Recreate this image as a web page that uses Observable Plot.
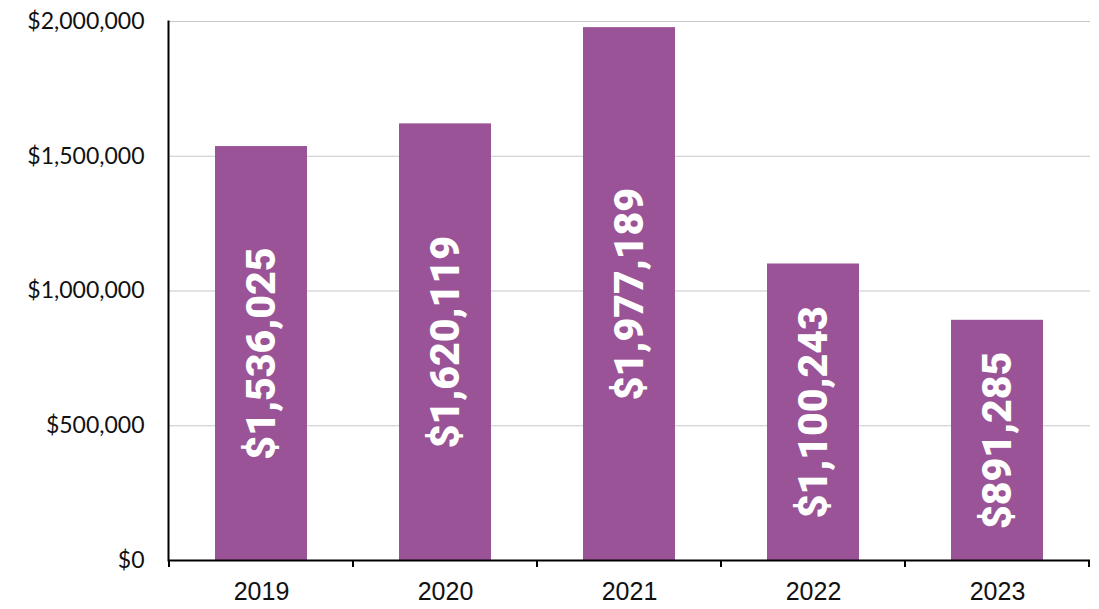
<!DOCTYPE html>
<html>
<head>
<meta charset="utf-8">
<script src="https://cdn.jsdelivr.net/npm/d3@7"></script>
<script src="https://cdn.jsdelivr.net/npm/@observablehq/plot@0.6"></script>
<style>
  html, body { margin: 0; padding: 0; background: #fff; }
  #chart svg { display: block; }
</style>
</head>
<body>
<div id="chart"></div>
<script>
const years = ["2019", "2020", "2021", "2022", "2023"];
const values = [1536025, 1620119, 1977189, 1100243, 891285];
const yTicks = [0, 500000, 1000000, 1500000, 2000000];

const data = years.map((year, i) => ({year, value: values[i]}));
const money = d => "$" + d3.format(",")(d);
const barColor = "#9A5396";

// Tick marks at the band boundaries of the x axis
function boundaryTicks(index, scales, values, dimensions) {
  const x = scales.x;
  const step = x.step();
  const pad = (step - x.bandwidth()) / 2;
  const y0 = dimensions.height - dimensions.marginBottom;
  const g = d3.create("svg:g");
  const positions = [x(years[0]) - pad];
  for (const yr of years) positions.push(x(yr) - pad + step);
  for (const px of positions) {
    g.append("line")
      .attr("x1", px).attr("x2", px)
      .attr("y1", y0).attr("y2", y0 + 7)
      .attr("stroke", "#000").attr("stroke-width", 2);
  }
  return g.node();
}

const chart = Plot.plot({
  width: 1099,
  height: 609,
  marginLeft: 168,
  marginRight: 9,
  marginTop: 21,
  marginBottom: 49,
  style: {background: "#fff", overflow: "visible"},
  x: {domain: years, paddingInner: 0.5, paddingOuter: 0.25, label: null},
  y: {domain: [0, 2000000], label: null},
  marks: [
    Plot.gridY(yTicks, {stroke: "#c8c8c8", strokeOpacity: 1, strokeWidth: 1.2}),
    Plot.barY(data, {x: "year", y: "value", fill: barColor}),
    Plot.axisY(yTicks, {
      tickFormat: money, tickSize: 0, tickPadding: 24,
      fontSize: 23, fontFamily: "Lato", fill: "#111",
      style: {letterSpacing: "1px"}
    }),
    Plot.axisX(years, {
      tickSize: 0, tickPadding: 22, fontSize: 25,
      fontFamily: "Liberation Sans", fill: "#111"
    }),
    Plot.ruleX([0], {x: () => years[0], render: boundaryTicks}),
    Plot.ruleY([0], {stroke: "#000", strokeWidth: 2}),
    Plot.frame({anchor: "left", stroke: "#000", strokeWidth: 2}),
    Plot.text(data, {
      x: "year", y: d => d.value / 2, text: d => money(d.value),
      rotate: -90, fill: "#fff", fontSize: 41, fontWeight: 900,
      fontFamily: "Roboto", style: {letterSpacing: "3px"}
    })
  ]
});
document.getElementById("chart").append(chart);
</script>
</body>
</html>
